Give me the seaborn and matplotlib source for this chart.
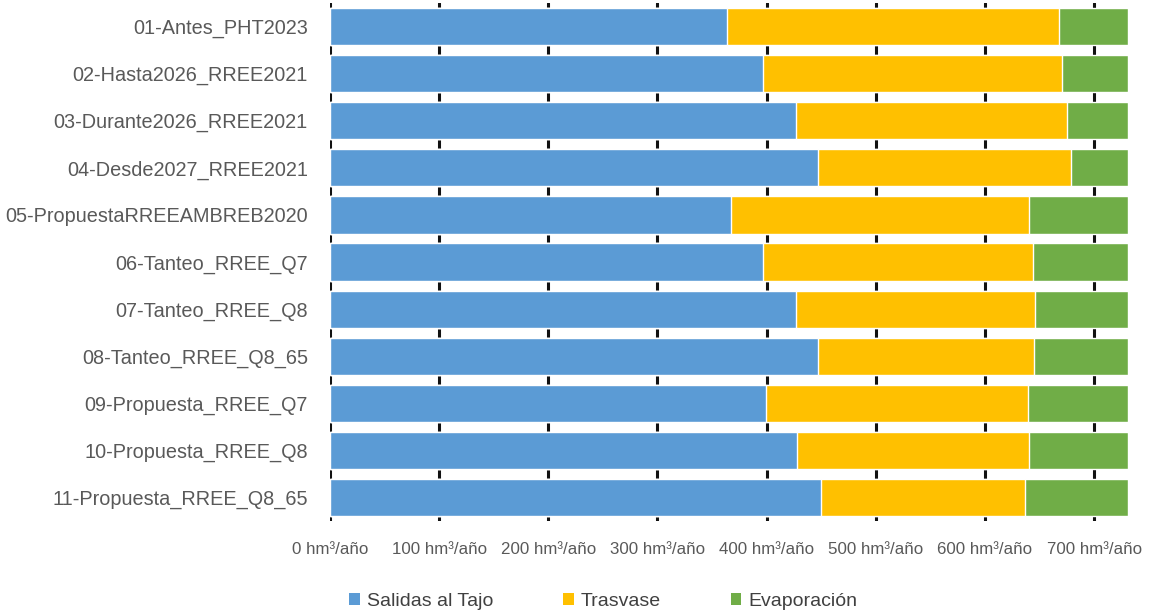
import numpy as np
import pandas as pd
import matplotlib
matplotlib.use("Agg")
import matplotlib.pyplot as plt
from matplotlib.patches import Patch
import seaborn as sns

escenarios = [
    "01-Antes_PHT2023",
    "02-Hasta2026_RREE2021",
    "03-Durante2026_RREE2021",
    "04-Desde2027_RREE2021",
    "05-PropuestaRREEAMBREB2020",
    "06-Tanteo_RREE_Q7",
    "07-Tanteo_RREE_Q8",
    "08-Tanteo_RREE_Q8_65",
    "09-Propuesta_RREE_Q7",
    "10-Propuesta_RREE_Q8",
    "11-Propuesta_RREE_Q8_65",
]
salidas_tajo = [364, 397, 427, 447, 367, 397, 427, 447, 399, 428, 450]
trasvase = [304, 274, 248, 232, 273, 247, 219, 198, 240, 212, 187]
evaporacion = [63, 60, 56, 52, 91, 87, 85, 86, 92, 91, 94]
x_ticks = [0, 100, 200, 300, 400, 500, 600, 700]
x_tick_labels = [f"{v} hm³/año" for v in x_ticks]

series_names = ["Salidas al Tajo", "Trasvase", "Evaporación"]
colors = ["#5B9BD5", "#FFC000", "#70AD47"]

sns.set_theme(style="white")
plt.rcParams["font.family"] = ["Liberation Sans", "DejaVu Sans"]

df = pd.DataFrame({
    "escenario": escenarios,
    "salidas": salidas_tajo,
    "trasvase": trasvase,
    "evaporacion": evaporacion,
})
df["c1"] = df["salidas"]
df["c2"] = df["salidas"] + df["trasvase"]
df["c3"] = df["c2"] + df["evaporacion"]

fig = plt.figure(figsize=(11.49, 6.15), dpi=100)
ax = fig.add_axes([0.2872, 0.1528, 0.6945, 0.8423])

# stacked bars drawn as overlapping cumulative totals, widest first
for col, color in zip(["c3", "c2", "c1"], colors[::-1]):
    sns.barplot(data=df, x=col, y="escenario", orient="h", color=color,
                width=0.79, saturation=1, ax=ax, zorder=2)

ax.set_xlim(0, df["c3"].max())
ax.set_ylim(len(escenarios) - 0.5, -0.5)
ax.set_xticks(x_ticks)
ax.set_xticklabels(x_tick_labels)
ax.set_xlabel("")
ax.set_ylabel("")

ax.set_axisbelow(True)
ax.grid(axis="x", color="#111111", linewidth=2.2)
ax.grid(axis="y", visible=False)
for s in ax.spines.values():
    s.set_visible(False)

ax.tick_params(axis="y", length=0, pad=16, labelsize=14.3, labelcolor="#595959")
ax.tick_params(axis="x", length=0, pad=15, labelsize=12.2, labelcolor="#595959")

handles = [Patch(facecolor=c, edgecolor="none", label=n) for c, n in zip(colors, series_names)]
fig.legend(handles=handles, loc="center", bbox_to_anchor=(0.525, 0.022), ncol=3,
           frameon=False, handlelength=0.55, handleheight=0.55, handletextpad=0.35,
           columnspacing=3.6, prop={"size": 14}, labelcolor="#404040")

fig.savefig("out.png", dpi=100, facecolor="white")
